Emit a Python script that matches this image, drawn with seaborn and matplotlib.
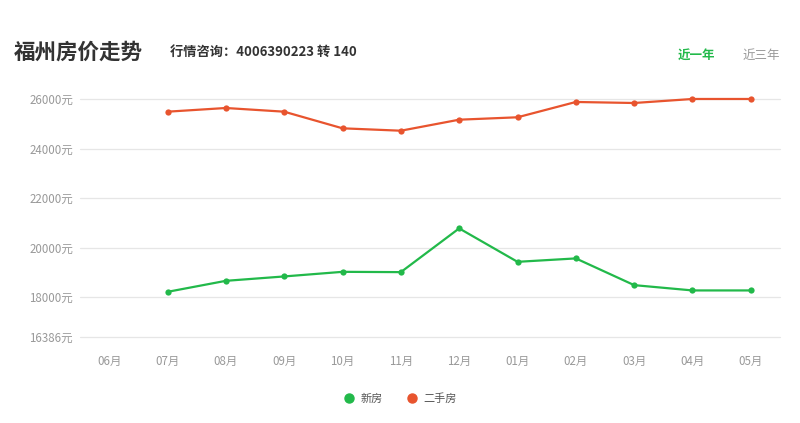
import matplotlib
matplotlib.use("Agg")
import matplotlib.pyplot as plt
import seaborn as sns
import pandas as pd
import numpy as np
from matplotlib.lines import Line2D

months = ["06月", "07月", "08月", "09月", "10月", "11月", "12月", "01月", "02月", "03月", "04月", "05月"]
new_house = [np.nan, 18214, 18659, 18836, 19022, 19010, 20776, 19426, 19564, 18485, 18271, 18271]
second_house = [np.nan, 25487, 25636, 25487, 24816, 24719, 25164, 25261, 25879, 25838, 26000, 26000]
series_names = ["新房", "二手房"]
y_ticks = [16386, 18000, 20000, 22000, 24000, 26000]

GREEN = "#22b94a"
RED = "#e8542e"

sns.set_theme(style="white")
plt.rcParams["font.family"] = ["Noto Sans CJK SC", "DejaVu Sans"]

df = pd.DataFrame({
    "month": months * 2,
    "x": list(range(len(months))) * 2,
    "price": new_house + second_house,
    "series": [series_names[0]] * len(months) + [series_names[1]] * len(months),
})

fig = plt.figure(figsize=(8, 4.23), dpi=100)
ax = fig.add_axes([0.1, 0.203, 0.875, 0.563])

for v in y_ticks:
    ax.axhline(v, color="#e6e6e6", linewidth=0.9, clip_on=False, zorder=0)

sns.lineplot(data=df, x="x", y="price", hue="series", palette=[GREEN, RED],
             marker="o", markersize=4.5, markeredgewidth=0, linewidth=1.6,
             ax=ax, legend=False, clip_on=False)

ax.set_xlim(-0.5, len(months) - 0.5)
ax.set_ylim(y_ticks[0], y_ticks[-1])
ax.set_xticks(range(len(months)))
ax.set_xticklabels(months)
ax.set_yticks(y_ticks)
ax.set_yticklabels([f"{v}元" for v in y_ticks])
ax.tick_params(axis="both", length=0, labelsize=8.3, labelcolor="#999999")
ax.tick_params(axis="x", pad=13)
ax.tick_params(axis="y", pad=5)
ax.set_xlabel("")
ax.set_ylabel("")
ax.grid(False)
for s in ax.spines.values():
    s.set_visible(False)

fig.text(0.017, 0.877, "福州房价走势", fontsize=15.5, fontweight="bold", color="#333333", va="center")
fig.text(0.212, 0.877, "行情咨询：4006390223 转 140", fontsize=9.5, fontweight="bold", color="#333333", va="center")
fig.text(0.870, 0.870, "近一年", fontsize=9, fontweight="bold", color=GREEN, va="center", ha="center")
fig.text(0.951, 0.870, "近三年", fontsize=9, color="#999999", va="center", ha="center")

handles = [Line2D([], [], marker="o", linestyle="", color=c, markersize=6.5) for c in (GREEN, RED)]
fig.legend(handles=handles, labels=series_names, loc="center", bbox_to_anchor=(0.497, 0.058),
           ncol=2, frameon=False, fontsize=8, handletextpad=0.05, columnspacing=1.6,
           labelcolor="#555555")

fig.savefig("out.png", dpi=100)
